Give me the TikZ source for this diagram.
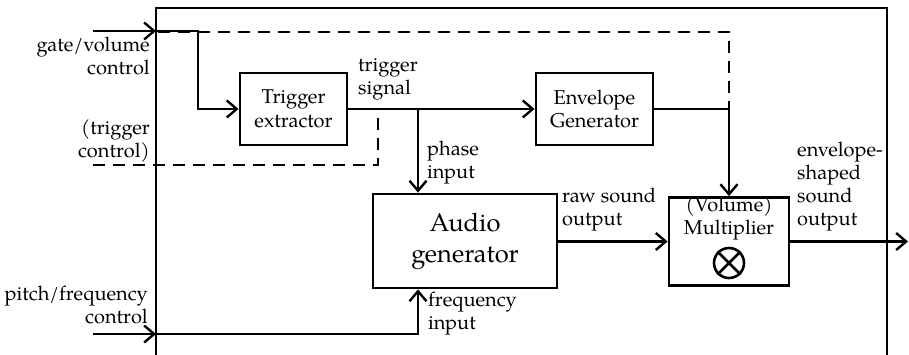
\documentclass[tikz,border=0pt]{standalone}
\usepackage{fontspec}
\setmainfont{TeX Gyre Pagella}
\usetikzlibrary{arrows.meta}
\begin{document}
\begin{tikzpicture}[x=1pt,y=-1pt,
  frame/.style={line width=2.6pt},
  conn/.style={line width=2.4pt,-{Straight Barb[length=10pt,width=17pt,line width=2.4pt]}},
  dsh/.style={line width=2.4pt,dash pattern=on 12pt off 8pt},
  box/.style={draw,line width=2.8pt,inner sep=0pt,align=center,font=\fontsize{20}{23.5}\selectfont},
  lbl/.style={inner sep=0pt,font=\fontsize{20}{23}\selectfont},
  lblL/.style={lbl,align=left,anchor=west},
  lblR/.style={lbl,align=right,anchor=east}]
\useasboundingbox (0,0) rectangle (909,355);
% outer frame
\draw[frame] (156,362) -- (156,8) -- (887,8) -- (887,362);
% boxes
\node[box,minimum width=107pt,minimum height=72pt] (trig) at (293.5,109) {Trigger\\extractor};
\node[box,minimum width=117pt,minimum height=72pt] (env) at (594.5,109) {Envelope\\Generator};
\node[box,minimum width=184pt,minimum height=94pt,font=\fontsize{25.5}{31}\selectfont] (aud) at (465,241) {Audio\\generator};
\node[box,minimum width=120pt,minimum height=88pt] (mult) at (729,241.5) {};
\node[lbl,align=center] (multtxt) at (729,218) {(Volume)\\Multiplier};
\node[circle,draw,line width=2.6pt,minimum size=30pt,inner sep=0pt] (otim) at (729,263) {};
\draw[line width=2.6pt] (otim.north west) -- (otim.south east) (otim.north east) -- (otim.south west);
% coordinates
\coordinate (gin) at (93,31);
\coordinate (gb) at (156,31);
\coordinate (gx) at (198,31);
\coordinate (pin) at (93,334);
\coordinate (pb) at (156,334);
\coordinate (ax) at (418,108);
\coordinate (ex) at (729,32);
\coordinate (tin) at (93,165);
\coordinate (tx) at (378,165);
\coordinate (out) at (908,241.5);
% dashed trigger-control paths
\draw[dsh] (158,32) -- (ex) -- (ex |- env.east);
\draw[dsh] (tin) -- (tx) -- (378,112);
% connectors
\draw[conn] (gin) -- (gb);
\draw[conn] (gb) -- (gx) |- (trig.west);
\draw[conn] (trig.east) -- (env.west);
\draw[conn] (ax) -- (ax |- aud.north);
\draw[conn] (env.east) -| (mult.north);
\draw[conn] (aud.east |- mult.west) -- (mult.west);
\draw[conn] (mult.east) -- (out);
\draw[conn] (pin) -- (pb);
\draw[conn] (pb) -| (ax |- aud.south);
% labels
\node[lblR] (lgate) at (150,56) {gate/volume\\control};
\node[lblR] (ltrc) at (150,141) {(trigger\\control)};
\node[lblR] (lpitch) at (148,305) {pitch/frequency\\control};
\node[lblL] (ltsig) at (358,79) {trigger\\signal};
\node[lblL] (lphase) at (427,163) {phase\\input};
\node[lblL] (lfreq) at (428,314) {frequency\\input};
\node[lblL] (lraw) at (562,210) {raw sound\\output};
\node[lblL] (lout) at (797,187) {envelope-\\shaped\\sound\\output};
\end{tikzpicture}
\end{document}
